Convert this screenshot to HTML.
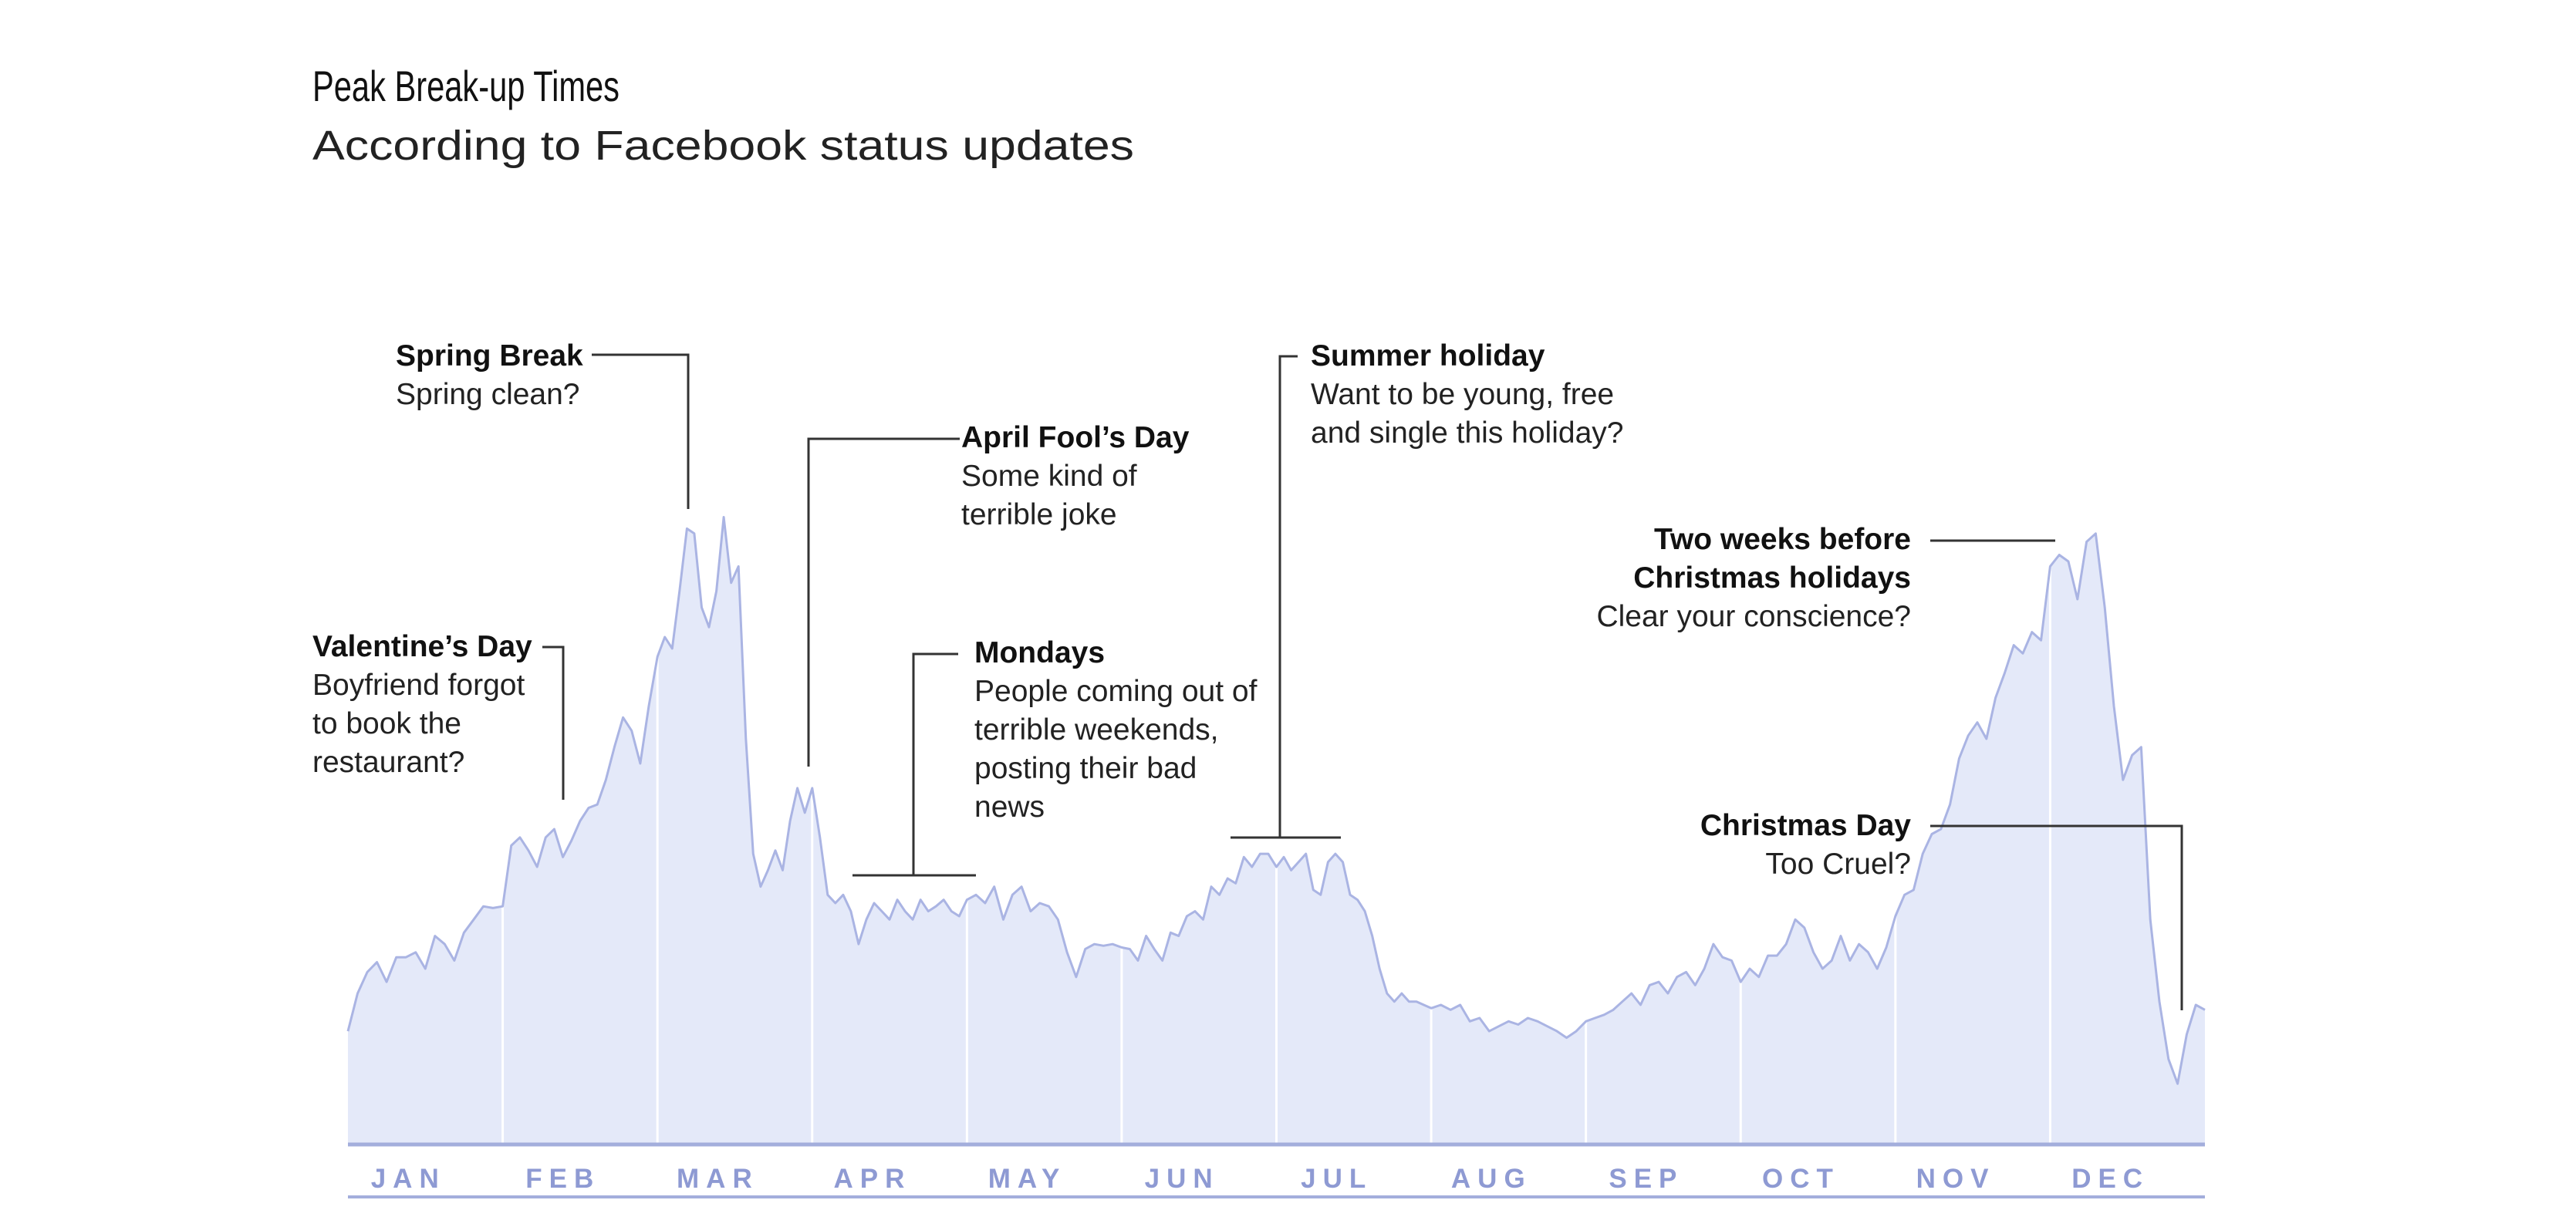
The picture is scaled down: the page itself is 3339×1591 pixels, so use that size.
<!DOCTYPE html>
<html><head><meta charset="utf-8"><style>
html,body{margin:0;padding:0;background:#fff}
svg{display:block}
text{font-family:"Liberation Sans",sans-serif}
.b{font-weight:bold;fill:#111;font-size:39px}
.n{fill:#222;font-size:39px}
</style></head><body>
<svg id="chart" width="3339" height="1591" viewBox="0 0 3339 1591">
<text x="405" y="131" font-size="56" fill="#111" textLength="398" lengthAdjust="spacingAndGlyphs">Peak Break-up Times</text>
<text x="405" y="207" font-size="54" fill="#222" textLength="1065" lengthAdjust="spacingAndGlyphs">According to Facebook status updates</text>
<g id="plot"></g>
<g id="ann" stroke="#333" stroke-width="3" fill="none">
<polyline points="767,460 892,460 892,660"/>
<polyline points="703,839 730,839 730,1037"/>
<polyline points="1244,569 1048,569 1048,994"/>
<polyline points="1242,848 1184,848 1184,1135"/>
<line x1="1105" y1="1135" x2="1265" y2="1135"/>
<polyline points="1682,462 1659,462 1659,1086"/>
<line x1="1595" y1="1086" x2="1738" y2="1086"/>
<line x1="2502" y1="701" x2="2664" y2="701"/>
<polyline points="2502,1071 2828,1071 2828,1310"/>
</g>
<g>
<text class="b" x="513" y="474">Spring Break</text><text class="n" x="513" y="524">Spring clean?</text></g>
<g>
<text class="b" x="405" y="851">Valentine’s Day</text><text class="n" x="405" y="901">Boyfriend forgot</text><text class="n" x="405" y="951">to book the</text><text class="n" x="405" y="1001">restaurant?</text></g>
<g>
<text class="b" x="1246" y="580">April Fool’s Day</text><text class="n" x="1246" y="630">Some kind of</text><text class="n" x="1246" y="680">terrible joke</text></g>
<g>
<text class="b" x="1263" y="859">Mondays</text><text class="n" x="1263" y="909">People coming out of</text><text class="n" x="1263" y="959">terrible weekends,</text><text class="n" x="1263" y="1009">posting their bad</text><text class="n" x="1263" y="1059">news</text></g>
<g>
<text class="b" x="1699" y="474">Summer holiday</text><text class="n" x="1699" y="524">Want to be young, free</text><text class="n" x="1699" y="574">and single this holiday?</text></g>
<g text-anchor="end">
<text class="b" x="2477" y="712">Two weeks before</text><text class="b" x="2477" y="762">Christmas holidays</text><text class="n" x="2477" y="812">Clear your conscience?</text></g>
<g text-anchor="end">
<text class="b" x="2477" y="1083">Christmas Day</text><text class="n" x="2477" y="1133">Too Cruel?</text></g>
</svg>
<script>
const months = ["JAN","FEB","MAR","APR","MAY","JUN","JUL","AUG","SEP","OCT","NOV","DEC"];
const janVals = [69,92,105,111,99,114,114,117,107,127,122,112,129,137,145,144];
const febVals = [145,182,187,179,169,187,192,175,185,197,205,207,222,242,260,252,232,267];
const marVals = [297,309,302,337,375,372,327,315,337,382,342,352,247,177,157,167,179,167,197,217,202];
const aprVals = [217,187,152,147,152,142,122,137,147,142,137,149,142,137,149,142,145,149,142,139];
const mayVals = [149,152,147,157,137,152,157,142,147,145,137,117,102,119,122,121,122];
const junVals = [120,119,112,127,119,112,129,127,139,142,137,157,152,162,159,175,169,177,177];
const julVals = [169,175,167,172,177,155,152,172,177,172,152,149,142,127,107,92,87,92,87,87,85];
const augVals = [83,85,82,85,75,77,69,72,75,73,77,75,72,69,65,69];
const sepVals = [75,77,79,82,87,92,85,97,99,92,102,105,97,107,122,114,112];
const octVals = [99,107,102,115,115,122,137,132,117,107,112,127,112,122,117,107,120];
const novVals = [139,152,155,177,189,192,207,235,249,257,247,272,287,304,299,312,307];
const decVals = [352,359,355,332,367,372,327,267,222,237,242,137,87,52,37,67,85,82];
const monthVals = [janVals,febVals,marVals,aprVals,mayVals,junVals,julVals,augVals,sepVals,octVals,novVals,decVals];

const X0=451, X1=2858, BASE=1484, K=2.1295;
const xScale = m => X0 + (X1-X0)*m/12;
const yScale = v => BASE - v*K;
const NS="http://www.w3.org/2000/svg";
const plot=document.getElementById('plot');
function mk(t,a){const e=document.createElementNS(NS,t);for(const k in a)e.setAttribute(k,a[k]);return e;}

let pts=[];
monthVals.forEach((arr,m)=>{arr.forEach((v,i)=>{const n=(m===11)?arr.length-1:arr.length;pts.push([xScale(m+i/n),yScale(v)]);});});
const d="M"+pts.map(p=>p[0].toFixed(1)+","+p[1].toFixed(1)).join(" L");
const area=mk('path',{d:d+` L${X1},${BASE} L${X0},${BASE} Z`,fill:"#e4e9f9"});


plot.appendChild(area);
const cp=mk('clipPath',{id:'ac'});cp.appendChild(mk('path',{d:d+` L${X1},${BASE} L${X0},${BASE} Z`}));
plot.appendChild(cp);
for(let m=1;m<12;m++){
  const gl=mk('line',{x1:xScale(m),x2:xScale(m),y1:BASE,y2:yScale(500),stroke:"#fff","stroke-width":3,"clip-path":"url(#ac)"});
  
  
  plot.appendChild(gl);
}
const line=mk('path',{d:d,fill:"none",stroke:"#aab4e3","stroke-width":3,"stroke-linejoin":"round"});


plot.appendChild(line);
const ax=mk('line',{x1:X0,x2:X1,y1:BASE,y2:BASE,stroke:"#a3aedc","stroke-width":5});


plot.appendChild(ax);
const ax2=mk('line',{x1:X0,x2:X1,y1:1552,y2:1552,stroke:"#a3aedc","stroke-width":4});


plot.appendChild(ax2);
months.forEach((mo,m)=>{
  const t=mk('text',{x:xScale(m+0.39),y:1540,"text-anchor":"middle","font-size":35,"font-weight":"bold",fill:"#8e9ad3","letter-spacing":9});
  t.textContent=mo;
  
  
  plot.appendChild(t);
});
</script>
</body></html>
